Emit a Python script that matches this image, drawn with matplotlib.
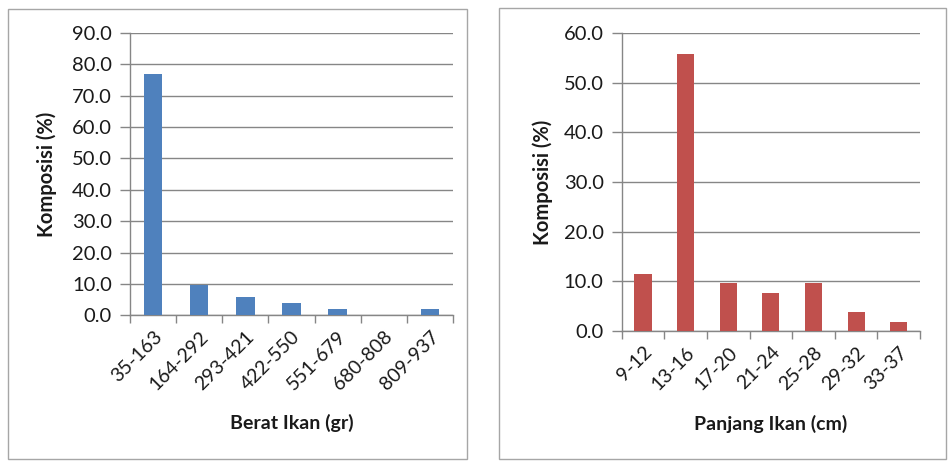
import matplotlib
matplotlib.use("Agg")
import matplotlib.pyplot as plt
from matplotlib.patches import Rectangle
from matplotlib.ticker import FormatStrFormatter, FixedLocator
import numpy as np

plt.rcParams["font.family"] = ["Lato", "DejaVu Sans"]

# ── Data ──────────────────────────────────────────────────────────────────────
berat_cats = ["35-163", "164-292", "293-421", "422-550", "551-679", "680-808", "809-937"]
berat_vals = [76.9, 9.6, 5.8, 3.8, 1.9, 0.0, 1.9]

panjang_cats = ["9-12", "13-16", "17-20", "21-24", "25-28", "29-32", "33-37"]
panjang_vals = [11.5, 55.8, 9.6, 7.7, 9.6, 3.8, 1.9]

BLUE = "#4F81BD"
RED = "#C0504D"
GRID = "#868686"
TEXT = "#1A1A1A"

W, H = 951, 463
fig = plt.figure(figsize=(W / 100, H / 100), dpi=100)
fig.patch.set_facecolor("white")

# panel frames
for x0, y0, x1, y1 in [(8, 9, 467, 459), (499, 8, 946, 459)]:
    fig.patches.append(Rectangle((x0 / W, 1 - y1 / H), (x1 - x0) / W, (y1 - y0) / H,
                                 transform=fig.transFigure, facecolor="none",
                                 edgecolor="#A6A6A6", lw=1.0))


def bar_panel(rect, cats, vals, color, ymax, xlabel, ylab_x, xlab_y):
    ax = fig.add_axes(rect)
    x = np.arange(len(cats))
    ax.bar(x, vals, width=0.4, color=color, zorder=3)
    ax.set_xlim(-0.5, len(cats) - 0.5)
    ax.set_ylim(0, ymax)
    ax.set_yticks(np.arange(0, ymax + 0.1, 10))
    ax.yaxis.set_major_formatter(FormatStrFormatter("%.1f"))
    ax.yaxis.grid(True, color=GRID, lw=1.0, zorder=0)
    ax.set_xticks(x)
    ax.set_xticklabels(cats, rotation=45, ha="right", rotation_mode="anchor",
                       fontsize=14, color=TEXT)
    ax.tick_params(axis="x", length=0, pad=9)
    # boundary tick marks
    ax.xaxis.set_minor_locator(FixedLocator(np.arange(-0.5, len(cats), 1)))
    ax.tick_params(axis="x", which="minor", length=6, color=GRID, width=1)
    ax.tick_params(axis="y", length=7, color=GRID, width=1, labelsize=14.5,
                   labelcolor=TEXT, pad=6)
    for s in ["top", "right"]:
        ax.spines[s].set_visible(False)
    for s in ["left", "bottom"]:
        ax.spines[s].set_color(GRID)
        ax.spines[s].set_linewidth(1.0)
    ax.set_ylabel("Komposisi (%)", fontsize=14.5, fontweight="bold", color=TEXT)
    ax.yaxis.set_label_coords(ylab_x, 0.5)
    ax.set_xlabel(xlabel, fontsize=14, fontweight="bold", color=TEXT)
    ax.xaxis.set_label_coords(0.5, xlab_y)
    return ax


bar_panel([130 / W, 1 - 315.3 / H, 323 / W, 282.3 / H],
          berat_cats, berat_vals, BLUE, 90, "Berat Ikan (gr)", -0.226, -0.35)
bar_panel([621.7 / W, 1 - 331 / H, 298.3 / W, 298 / H],
          panjang_cats, panjang_vals, RED, 60, "Panjang Ikan (cm)", -0.23, -0.28)

plt.savefig("out.png", dpi=100, facecolor="white")
plt.close()
